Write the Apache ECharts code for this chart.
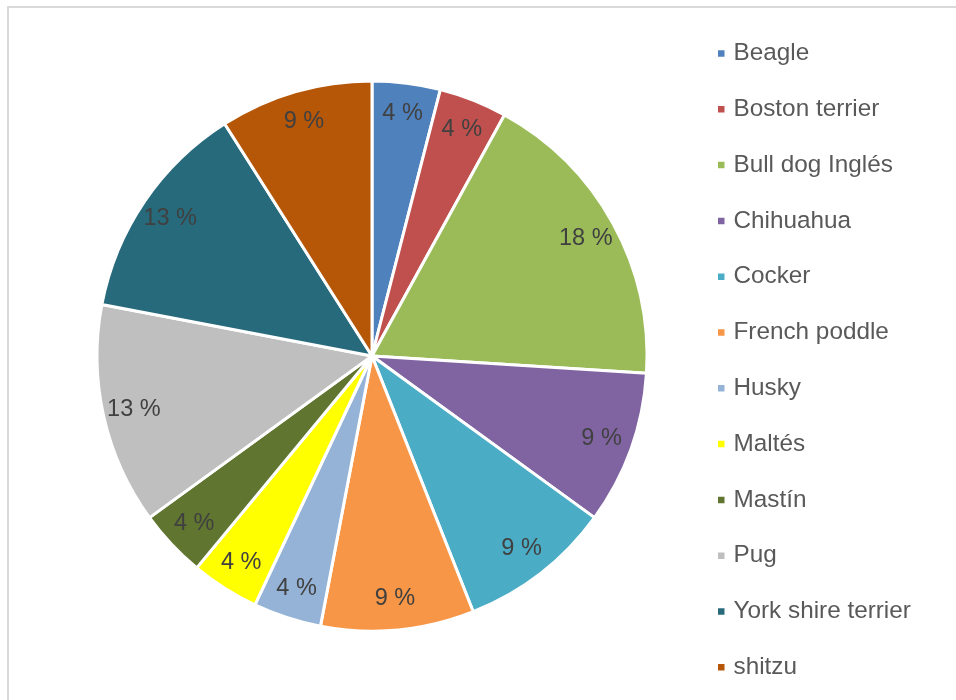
<!DOCTYPE html>
<html>
<head>
<meta charset="utf-8">
<script src="https://cdn.jsdelivr.net/npm/echarts@6/dist/echarts.min.js"></script>
<style>
  html, body { margin: 0; padding: 0; background: #fff; }
  #chart { width: 956px; height: 700px; }
</style>
</head>
<body>
<div id="chart"></div>
<script>
// Breeds and their share (%) of the sample
const breeds = ['Beagle', 'Boston terrier', 'Bull dog Inglés', 'Chihuahua', 'Cocker',
  'French poddle', 'Husky', 'Maltés', 'Mastín', 'Pug', 'York shire terrier', 'shitzu'];
const shares = [4, 4, 18, 9, 9, 9, 4, 4, 4, 13, 13, 9];
const sliceColors = ['#4F81BD', '#C0504D', '#9BBB59', '#8064A2', '#4BACC6', '#F79646',
  '#95B3D7', '#FFFF00', '#5F7530', '#BFBFBF', '#276A7C', '#B65708'];

const data = breeds.map((name, i) => ({ name, value: shares[i] }));

const chart = echarts.init(document.getElementById('chart'), null, { renderer: 'canvas' });
const center = [372, 356];
const R = 275;
const font = 'Liberation Sans, Arial, sans-serif';

chart.setOption({
  animation: false,
  color: sliceColors,
  graphic: [{
    type: 'rect',
    shape: { x: 8, y: 7, width: 1000, height: 1000 },
    style: { fill: 'none', stroke: '#d9d9d9', lineWidth: 2 },
    silent: true
  }],
  legend: {
    orient: 'vertical',
    left: 711,
    top: 35,
    icon: 'rect',
    itemWidth: 8.5,
    itemHeight: 8.5,
    itemGap: 28.8,
    textStyle: { fontFamily: font, fontSize: 24.3, color: '#595959', lineHeight: 27, padding: [0, 0, 0, 3] },
    data: breeds
  },
  series: [
    {
      type: 'pie',
      center: center,
      radius: [0, R],
      startAngle: 90,
      clockwise: true,
      silent: true,
      itemStyle: { borderColor: '#fff', borderWidth: 3 },
      label: { show: false },
      labelLine: { show: false },
      data: data
    },
    {
      // transparent ring that carries the value labels near the rim
      type: 'pie',
      center: center,
      radius: [207, R],
      startAngle: 90,
      clockwise: true,
      silent: true,
      legendHoverLink: false,
      itemStyle: { color: 'rgba(0,0,0,0)', borderWidth: 0 },
      label: {
        show: true,
        position: 'inside',
        formatter: p => p.value + ' %',
        fontFamily: font,
        fontSize: 23.5,
        color: '#404040'
      },
      labelLine: { show: false },
      data: data.map(d => ({ name: d.name, value: d.value }))
    }
  ]
});
</script>
</body>
</html>
